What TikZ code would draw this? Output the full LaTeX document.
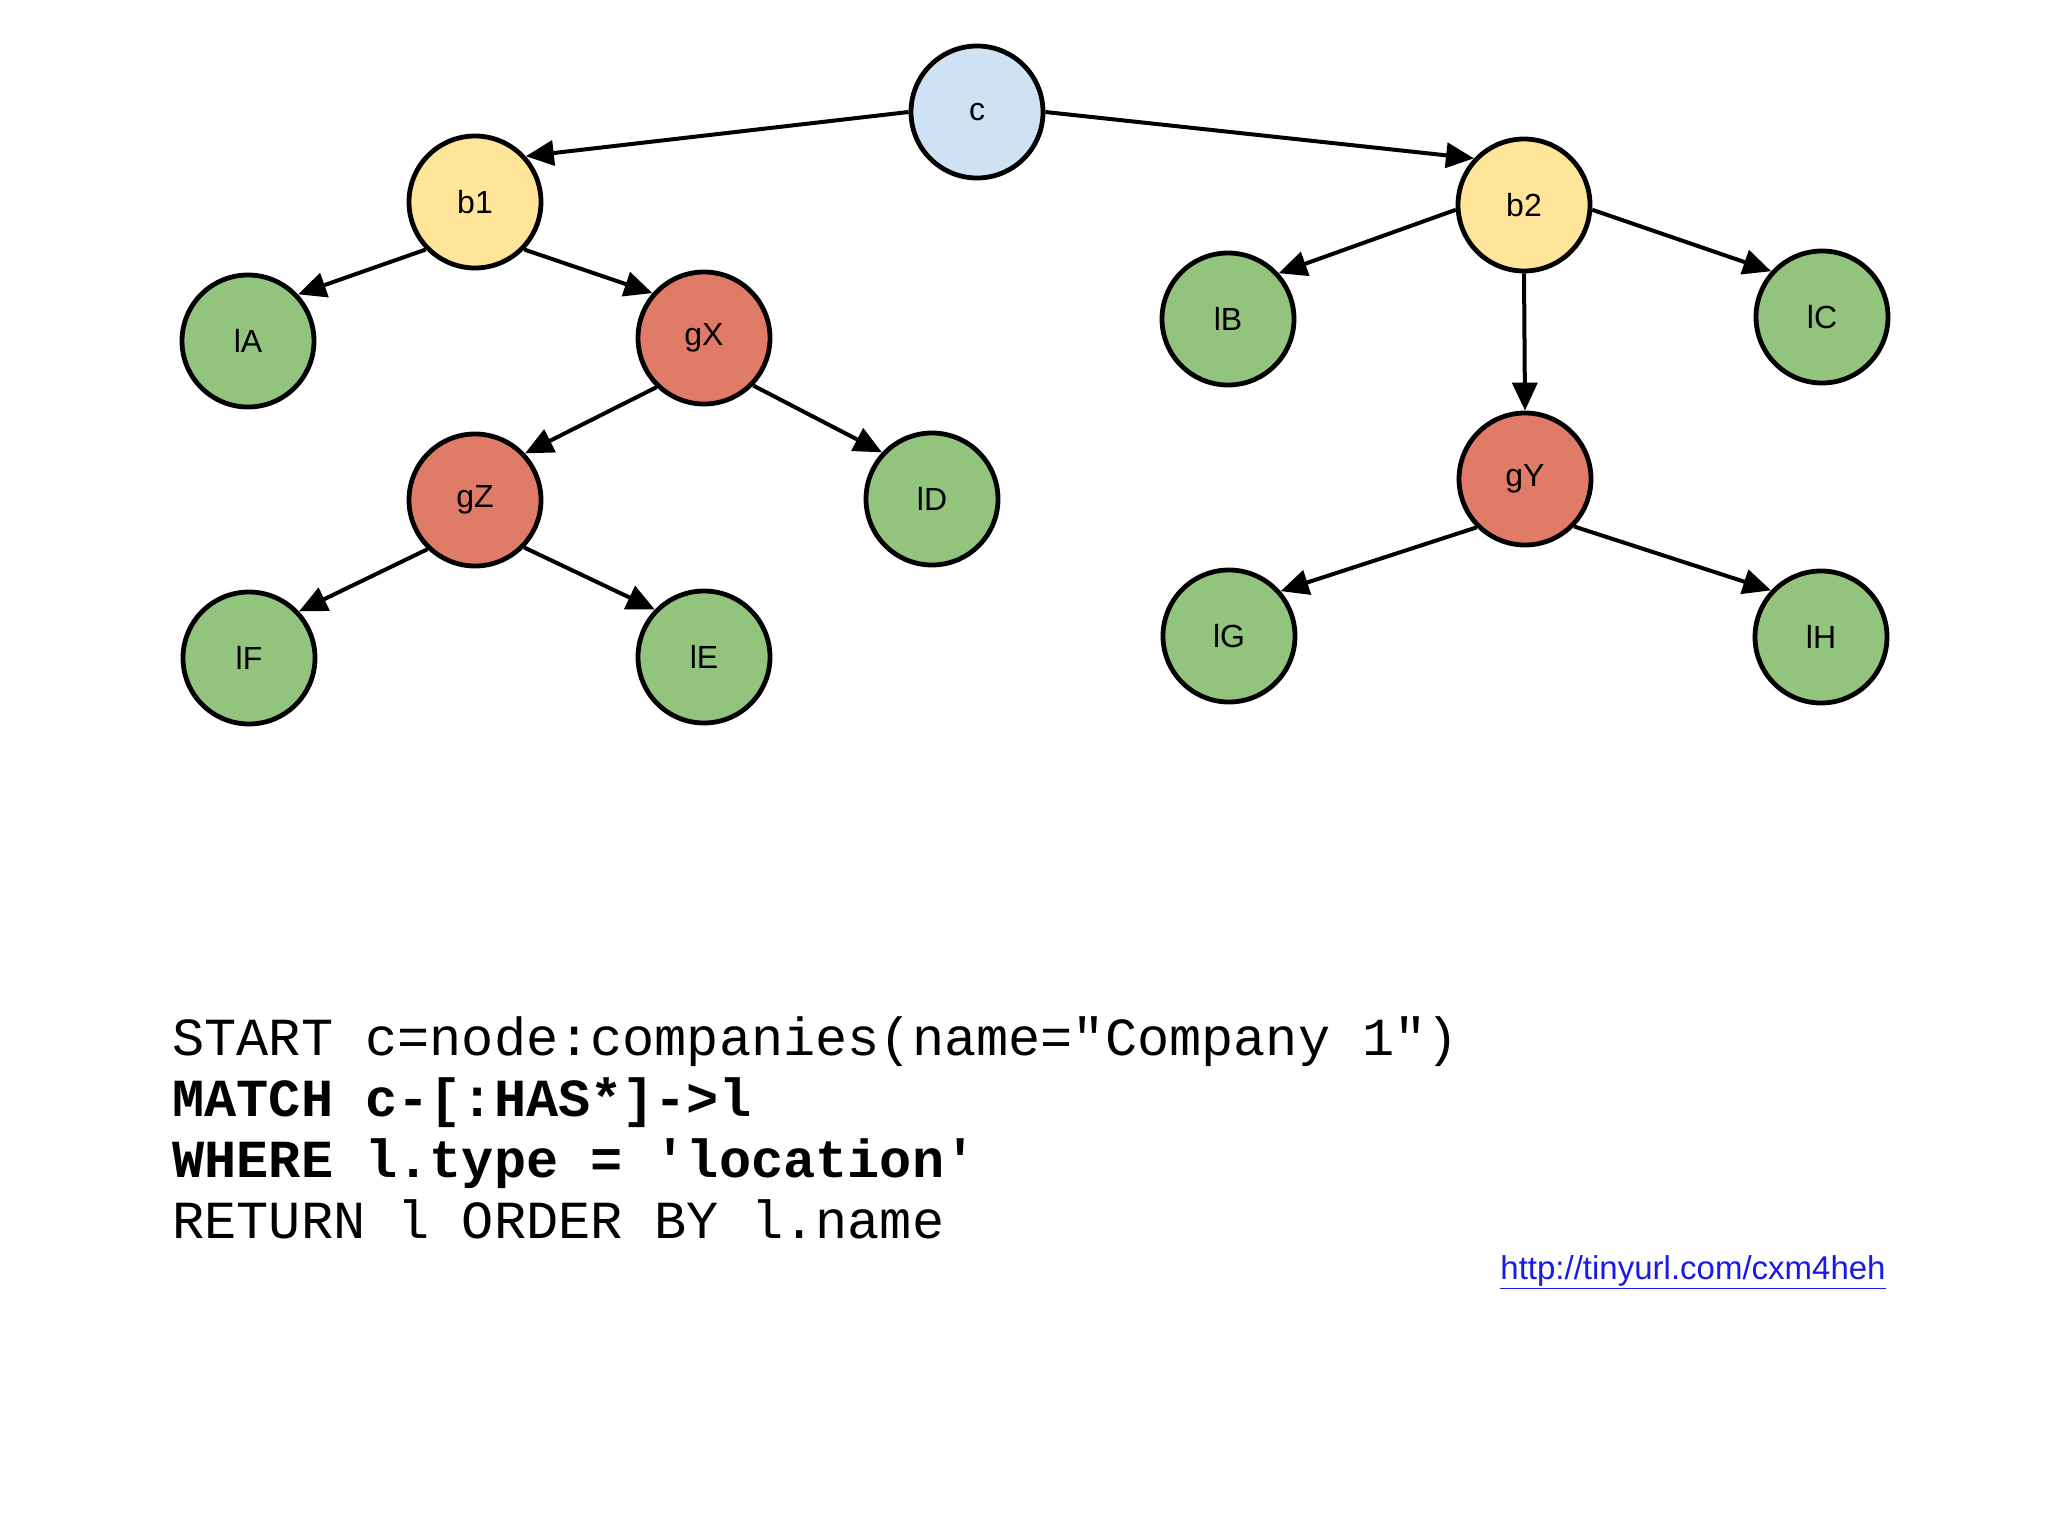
\documentclass[tikz,border=0pt]{standalone}
\usepackage{fontspec}
\setmainfont{Liberation Sans}
\setmonofont{Liberation Mono}
\usetikzlibrary{arrows.meta}
\definecolor{cblue}{HTML}{CFE2F3}
\definecolor{byellow}{HTML}{FFE599}
\definecolor{gred}{HTML}{E07B67}
\definecolor{lgreen}{HTML}{93C47D}
\definecolor{linkblue}{HTML}{1A1AE6}
\begin{document}
\begin{tikzpicture}[x=0.5pt,y=-0.5pt,
  gnode/.style={circle, draw=black, line width=2.4pt, minimum size=66pt, inner sep=0pt,
    font=\fontsize{16}{18}\selectfont},
  cnode/.style={gnode, fill=cblue},
  bnode/.style={gnode, fill=byellow},
  rnode/.style={gnode, fill=gred},
  lnode/.style={gnode, fill=lgreen},
  edgearrow/.style={line width=2pt, -{Triangle[length=14pt,width=12.5pt]}},
  codeline/.style={anchor=base west, inner sep=0pt, font=\ttfamily\fontsize{26.8}{30}\selectfont},
  boldline/.style={codeline, font=\ttfamily\bfseries\fontsize{26.8}{30}\selectfont},
  linktext/.style={anchor=base west, inner sep=0pt, text=linkblue, font=\fontsize{16.5}{19}\selectfont}
]
\useasboundingbox[fill=white] (0,0) rectangle (2048,1536);

\node[cnode] (c) at (977,112) {c};
\node[bnode] (b1) at (475,202) {b1};
\node[bnode] (b2) at (1524,205) {b2};
\node[lnode] (lA) at (248,341) {lA};
\node[rnode] (gX) at (704,338) {gX};
\node[rnode] (gZ) at (475,500) {gZ};
\node[lnode] (lD) at (932,499) {lD};
\node[lnode] (lF) at (249,658) {lF};
\node[lnode] (lE) at (704,657) {lE};
\node[lnode] (lB) at (1228,319) {lB};
\node[lnode] (lC) at (1822,317) {lC};
\node[rnode] (gY) at (1525,479) {gY};
\node[lnode] (lG) at (1229,636) {lG};
\node[lnode] (lH) at (1821,637) {lH};

\draw[edgearrow] (c.180) -- (b1.42);
\draw[edgearrow] (c.0) -- (b2.137);
\draw[edgearrow] (b1.224) -- (lA.43);
\draw[edgearrow] (b1.316) -- (gX.139);
\draw[edgearrow] (gX.226) -- (gZ.43);
\draw[edgearrow] (gX.316) -- (lD.137);
\draw[edgearrow] (gZ.226) -- (lF.43);
\draw[edgearrow] (gZ.316) -- (lE.136);
\draw[edgearrow] (b2.184) -- (lB.42);
\draw[edgearrow] (b2.356) -- (lC.138);
\draw[edgearrow] (b2.270) -- (gY.90);
\draw[edgearrow] (gY.225) -- (lG.41);
\draw[edgearrow] (gY.316) -- (lH.137);

\node[codeline] (q1) at (172,1055) {START c=node:companies(name="Company 1")};
\node[boldline] (q2) at (172,1116) {MATCH c-[:HAS*]->l};
\node[boldline] (q3) at (172,1177) {WHERE l.type = 'location'};
\node[codeline] (q4) at (172,1238) {RETURN l ORDER BY l.name};

\node[linktext] (link) at (1500,1279) {\underline{http://tinyurl.com/cxm4heh}};
\end{tikzpicture}
\end{document}
